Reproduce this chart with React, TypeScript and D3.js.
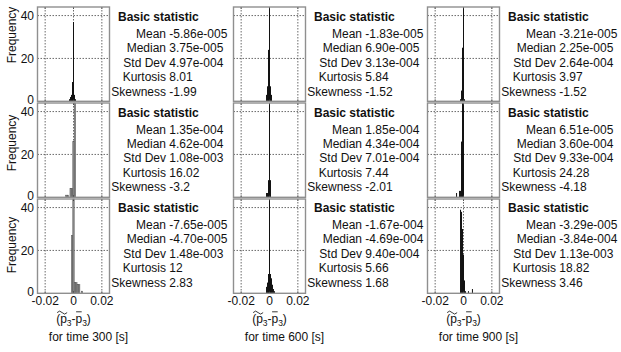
import React from 'react'
import * as d3 from 'd3'

// columns = time steps, rows = the three histograms of each time
const times = [300, 600, 900]
const statLabels = ['Mean', 'Median', 'Std Dev', 'Kurtosis', 'Skewness']

const statsT300 = [
    ['-5.86e-005', '3.75e-005', '4.97e-004', '8.01', '-1.99'],
    ['1.35e-004', '4.62e-004', '1.08e-003', '16.02', '-3.2'],
    ['-7.65e-005', '-4.70e-005', '1.48e-003', '12', '2.83'],
]
const statsT600 = [
    ['-1.83e-005', '6.90e-005', '3.13e-004', '5.84', '-1.52'],
    ['1.85e-004', '4.34e-004', '7.01e-004', '7.44', '-2.01'],
    ['-1.67e-004', '-4.69e-004', '9.40e-004', '5.66', '1.68'],
]
const statsT900 = [
    ['-3.21e-005', '2.25e-005', '2.64e-004', '3.97', '-1.52'],
    ['6.51e-005', '3.60e-004', '9.33e-004', '24.28', '-4.18'],
    ['-3.29e-005', '-3.84e-004', '1.13e-003', '18.82', '3.46'],
]

// histogram counts, bin k is centred on k * width (counts start at bin `first`)
interface Hist {
    width: number
    first: number
    counts: number[]
    gray?: boolean
}
const histT300: Hist[] = [
    { width: 0.0007, first: -4, counts: [1, 2, 3, 9, 37, 3, 1] },
    { width: 0.001, first: -5, counts: [1, 1, 0, 4, 4, 26, 50], gray: true },
    { width: 0.001, first: -1, counts: [27, 50, 5, 5, 4, 4, 0, 1], gray: true },
]
const histT600: Hist[] = [
    { width: 0.0007, first: -3, counts: [3, 7, 24, 50, 7, 3] },
    { width: 0.0007, first: -3, counts: [2, 2, 8, 50, 8] },
    { width: 0.0007, first: -3, counts: [3, 5, 9, 50, 9, 7, 4, 2, 1] },
]
const histT900: Hist[] = [
    { width: 0.0007, first: -3, counts: [1, 5, 25, 50, 1] },
    { width: 0.0007, first: -7, counts: [2, 0, 0, 3, 3, 26, 50, 50] },
    { width: 0.0007, first: -3, counts: [39, 38, 30, 18, 6, 1, 0, 0, 1, 0, 0, 0, 2] },
]

const xTicks = [-0.02, 0, 0.02]
const yTicks = [0, 20, 40]

const stats = [statsT300, statsT600, statsT900]
const hists = [histT300, histT600, histT900]

const boxW = 72
const boxH = 94.3
const boxLeft = [37.5, 233.5, 427.5]
const boxTop = [7, 103, 199]
const textTop = [7, 102.5, 198]
const freqY = [35, 143, 245]
const font = 'Liberation Sans, Arial, sans-serif'

function PLabel({ cx }: { cx: number }) {
    // (p~3 - p¯3), laid out piece by piece so the accents can sit on the p's
    const pieces = [
        { t: '(', w: 4 },
        { t: 'p', w: 6.67 },
        { t: '3', w: 4.7, sub: true },
        { t: '-', w: 4 },
        { t: 'p', w: 6.67 },
        { t: '3', w: 4.7, sub: true },
        { t: ')', w: 4 },
    ]
    const total = d3.sum(pieces, (p) => p.w)
    let cur = cx - total / 2
    const placed = pieces.map((p) => {
        const o = { ...p, x: cur }
        cur += p.w
        return o
    })
    const base = 322.5
    const t0 = placed[0].x + 1
    const p2 = placed[4].x
    return (
        <g fontFamily={font} fill="#111">
            {placed.map((p, i) => (
                <text
                    key={i}
                    x={p.x}
                    y={p.sub ? base + 3 : base}
                    fontSize={p.sub ? 8.5 : 12}
                >
                    {p.t}
                </text>
            ))}
            <path
                d={`M${t0},312.6 q2.5,-3 5,0 t5,0`}
                fill="none"
                stroke="#222"
                strokeWidth={0.9}
            />
            <line x1={p2 + 0.6} x2={p2 + 6.2} y1={311.8} y2={311.8} stroke="#222" strokeWidth={0.9} />
        </g>
    )
}

export default function App() {
    const x = d3.scaleLinear().domain([-0.0254, 0.0254]).range([0, boxW])
    const y = d3.scaleLinear().domain([0, 44]).range([boxH, 0])

    return (
        <svg
            width={621}
            height={352}
            style={{ position: 'absolute', left: 0, top: 0, background: '#fff' }}
        >
            {times.map((time, c) => (
                <g key={time}>
                    {hists[c].map((h, r) => (
                        <g key={r} transform={`translate(${boxLeft[c]},${boxTop[r]})`}>
                            {xTicks.map((t) => (
                                <line
                                    key={t}
                                    x1={x(t)}
                                    x2={x(t)}
                                    y1={0}
                                    y2={boxH}
                                    stroke="#444"
                                    strokeWidth={0.8}
                                    strokeDasharray="1.5,1.5"
                                />
                            ))}
                            {yTicks.slice(1).map((t) => (
                                <line
                                    key={t}
                                    x1={0}
                                    x2={boxW}
                                    y1={y(t)}
                                    y2={y(t)}
                                    stroke="#444"
                                    strokeWidth={0.8}
                                    strokeDasharray="1.5,1.5"
                                />
                            ))}
                            {h.counts.map((n, i) => {
                                if (!n) return null
                                const k = h.first + i
                                const x0 = x((k - 0.5) * h.width)
                                const x1 = x((k + 0.5) * h.width)
                                const top = y(Math.min(n, 44))
                                return (
                                    <rect
                                        key={i}
                                        x={x0}
                                        y={top}
                                        width={x1 - x0}
                                        height={boxH - top}
                                        fill={h.gray ? '#8a8a8a' : '#111'}
                                        stroke={h.gray ? '#555' : 'none'}
                                        strokeWidth={h.gray ? 0.5 : 0}
                                    />
                                )
                            })}
                            {xTicks.map((t) => (
                                <g key={t} stroke="#333" strokeWidth={0.8}>
                                    <line x1={x(t)} x2={x(t)} y1={boxH} y2={boxH - 2} />
                                    <line x1={x(t)} x2={x(t)} y1={0} y2={2} />
                                </g>
                            ))}
                            <rect
                                x={0}
                                y={0}
                                width={boxW}
                                height={boxH}
                                fill="none"
                                stroke="#8f8f8f"
                                strokeWidth={1.4}
                            />
                            {c === 0 &&
                                yTicks.map((t) => (
                                    <text
                                        key={t}
                                        x={-3.5}
                                        y={y(t) + (t === 0 ? 2.3 : 4.3)}
                                        textAnchor="end"
                                        fontSize={12}
                                        fontFamily={font}
                                        fill="#111"
                                    >
                                        {t}
                                    </text>
                                ))}
                            {r === 2 &&
                                xTicks.map((t) => (
                                    <text
                                        key={t}
                                        x={x(t)}
                                        y={boxH + 11.2}
                                        textAnchor="middle"
                                        fontSize={12}
                                        fontFamily={font}
                                        fill="#111"
                                    >
                                        {t === 0 ? '0' : t.toString()}
                                    </text>
                                ))}
                        </g>
                    ))}

                    {stats[c].map((vals, r) => (
                        <g
                            key={r}
                            transform={`translate(${boxLeft[c] - boxLeft[0]},${textTop[r]})`}
                            fontFamily={font}
                            fontSize={12}
                            fill="#111"
                        >
                            <text x={118} y={14.2} fontWeight="bold">
                                Basic statistic
                            </text>
                            {statLabels.map((lab, i) => (
                                <g key={lab}>
                                    <text x={166} y={31 + i * 14.4} textAnchor="end">
                                        {lab}
                                    </text>
                                    <text x={169.3} y={31 + i * 14.4}>
                                        {vals[i]}
                                    </text>
                                </g>
                            ))}
                        </g>
                    ))}

                    <PLabel cx={boxLeft[c] + boxW / 2} />
                    <text
                        x={boxLeft[c] + boxW / 2 + 15}
                        y={341}
                        textAnchor="middle"
                        fontSize={12}
                        fontFamily={font}
                        fill="#111"
                    >
                        {`for time ${time} [s]`}
                    </text>
                </g>
            ))}

            {freqY.map((cy, r) => (
                <text
                    key={r}
                    transform={`translate(15.5,${cy}) rotate(-90)`}
                    textAnchor="middle"
                    fontSize={12}
                    fontFamily={font}
                    fill="#111"
                >
                    Frequency
                </text>
            ))}
        </svg>
    )
}
